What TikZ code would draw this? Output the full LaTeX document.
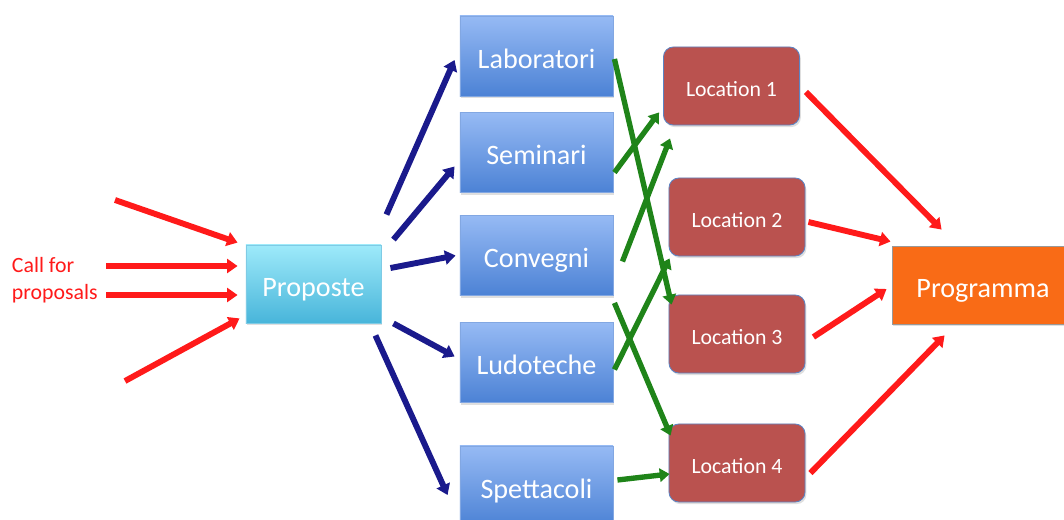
\documentclass[tikz,border=0pt]{standalone}
\usepackage{fontspec}
\setmainfont{Carlito}
\usetikzlibrary{arrows.meta,shadows}
\definecolor{callred}{HTML}{FF1A1A}
\definecolor{navy}{HTML}{1A1A8C}
\definecolor{leaf}{HTML}{1F8419}
\definecolor{skytop}{HTML}{9EEAFA}
\definecolor{skybot}{HTML}{48B5DA}
\definecolor{bluetop}{HTML}{96BAF4}
\definecolor{bluebot}{HTML}{4C82D5}
\definecolor{brick}{HTML}{BA524F}
\definecolor{brickrim}{HTML}{5B84C4}
\definecolor{progfill}{HTML}{F96B16}

\begin{document}
\begin{tikzpicture}[x=0.025cm,y=-0.025cm,
		boxshadow/.style={drop shadow={opacity=0.25,shadow xshift=1pt,shadow yshift=-1.5pt}},
		bigtext/.style={text=white,font=\fontsize{20}{22}\selectfont,text height=17.5pt,text depth=0pt},
		propbox/.style={draw=skybot!70!white,line width=0.6pt,top color=skytop,bottom color=skybot,
			minimum width=3.375cm,minimum height=1.95cm,bigtext,boxshadow},
		catbox/.style={draw=bluebot!70!white,line width=0.6pt,top color=bluetop,bottom color=bluebot,
			minimum width=3.825cm,minimum height=2cm,bigtext,boxshadow},
		locbox/.style={draw=brickrim,line width=0.6pt,fill=brick,rounded corners=7pt,text height=15.5pt,text depth=0pt,
			minimum width=3.4cm,minimum height=1.95cm,text=white,font=\fontsize{15.5}{18}\selectfont,boxshadow},
		progbox/.style={draw=gray!80,line width=0.6pt,fill=progfill,
			minimum width=4.55cm,minimum height=1.95cm,bigtext,boxshadow},
		redarrow/.style={draw=callred,line width=4.2pt,-{Triangle[length=7.5pt,width=10pt]}},
		bluearrow/.style={draw=navy,line width=4.2pt,-{Triangle[length=7.5pt,width=10pt]}},
		greenarrow/.style={draw=leaf,line width=3.8pt,-{Triangle[length=7pt,width=9.5pt]}}]
		\clip (0,0) rectangle (1064,519);
		\fill[white] (0,0) rectangle (1064,519);
		% boxes
		\node[propbox] (prop) at (313.5,284) {Proposte};
		\node[catbox] (lab) at (536.5,56) {Laboratori};
		\node[catbox] (sem) at (536.5,152.5) {Seminari};
		\node[catbox] (conv) at (536.5,255.5) {Convegni};
		\node[catbox] (ludo) at (536.5,362.5) {Ludoteche};
		\node[catbox] (spet) at (536.5,486) {Spettacoli};
		\node[locbox] (loc1) at (731.5,86) {Location 1};
		\node[locbox] (loc2) at (737,217) {Location 2};
		\node[locbox] (loc3) at (737,334) {Location 3};
		\node[locbox] (loc4) at (737,463) {Location 4};
		\node[progbox] (prog) at (983,285) {Programma};
		\node[anchor=west,align=left,text=callred,font=\fontsize{15.5}{19}\selectfont] (call) at (7,280) {Call for\\proposals};
		% call for proposals
		\coordinate (in1) at (115,200);
		\coordinate (in2) at (106,266);
		\coordinate (in3) at (106,295);
		\coordinate (in4) at (125,381);
		\draw[redarrow] (in1) -- ([shift={(-8,-2)}]prop.north west);
		\draw[redarrow] (in2) -- ([shift={(-8,-18)}]prop.west);
		\draw[redarrow] (in3) -- ([shift={(-8,11)}]prop.west);
		\draw[redarrow] (in4) -- ([shift={(-6,-5)}]prop.south west);
		% proposte to the kinds of event
		\draw[bluearrow] ([shift={(5,-30)}]prop.north east) -- ([shift={(-5,4)}]lab.west);
		\draw[bluearrow] ([shift={(12,-5)}]prop.north east) -- ([shift={(-5,14)}]sem.west);
		\draw[bluearrow] ([shift={(9,-16)}]prop.east) -- ([shift={(-4,0)}]conv.west);
		\draw[bluearrow] ([shift={(12,0)}]prop.south east) -- ([shift={(-5,-6)}]ludo.west);
		\draw[bluearrow] ([shift={(-6,12)}]prop.south east) -- ([shift={(-12,9)}]spet.west);
		% events to locations
		\draw[greenarrow] ([shift={(1,3)}]lab.east) -- ([shift={(3,10)}]loc3.north west);
		\draw[greenarrow] ([shift={(1,20)}]sem.east) -- ([shift={(-4,-13)}]loc1.south west);
		\draw[greenarrow] ([shift={(9,6)}]conv.east) -- ([shift={(7,13)}]loc1.south west);
		\draw[greenarrow] ([shift={(1,7)}]conv.south east) -- ([shift={(2,12)}]loc4.north west);
		\draw[greenarrow] ([shift={(1,7)}]ludo.east) -- ([shift={(1,2)}]loc2.south west);
		\draw[greenarrow] ([shift={(4,-6)}]spet.east) -- ([shift={(1,11)}]loc4.west);
		% locations to programma
		\draw[redarrow] ([shift={(6,6)}]loc1.east) -- ([shift={(50,-16)}]prog.north west);
		\draw[redarrow] ([shift={(3,5)}]loc2.east) -- ([shift={(-1,-4)}]prog.north west);
		\draw[redarrow] ([shift={(8,3)}]loc3.east) -- ([shift={(-5,4)}]prog.west);
		\draw[redarrow] ([shift={(5,10)}]loc4.east) -- ([shift={(53,11)}]prog.south west);
	\end{tikzpicture}
\end{document}
